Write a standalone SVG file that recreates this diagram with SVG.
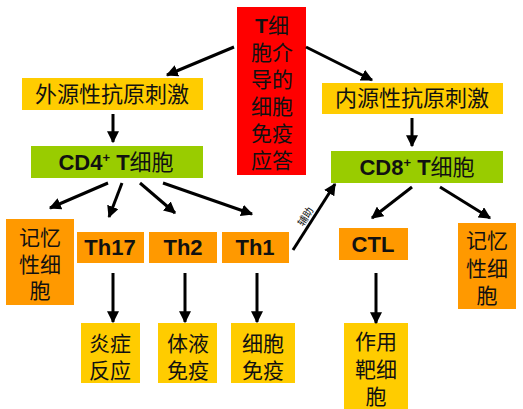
<svg xmlns="http://www.w3.org/2000/svg" width="523" height="409" viewBox="0 0 523 409">
<defs>
<marker id="ah" viewBox="0 0 10 10" refX="9" refY="5" markerWidth="4" markerHeight="4" orient="auto" markerUnits="strokeWidth">
<path d="M0,0 L10,5 L0,10 z" fill="#000"/>
</marker>
<style>
.cn{font-family:"Liberation Sans","Noto Sans CJK SC",sans-serif;font-size:21px;fill:#111;text-anchor:middle;}
.en{font-family:"Liberation Sans",Arial,sans-serif;font-weight:bold;font-size:22px;fill:#111;}
.ar{stroke:#000;stroke-width:3;fill:none;marker-end:url(#ah);}
.y{fill:#ffcc00;}
.o{fill:#ff9900;}
.g{fill:#99cc00;}
</style>
</defs>
<rect width="523" height="409" fill="#fff"/>
<g id="red">
<rect x="237" y="7" width="69" height="168" fill="#ff0000"/>
<text class="cn" x="272" y="33"><tspan class="en" style="font-size:21px">T</tspan>细<tspan x="272" dy="27">胞介</tspan><tspan x="272" dy="27">导的</tspan><tspan x="272" dy="27">细胞</tspan><tspan x="272" dy="27">免疫</tspan><tspan x="272" dy="27">应答</tspan></text>
</g>
<g id="exo">
<rect class="y" x="22" y="78" width="181" height="32"/>
<text class="cn" x="112" y="102" style="font-size:22px">外源性抗原刺激</text>
</g>
<g id="endo">
<rect class="y" x="322" y="83" width="181" height="31"/>
<text class="cn" x="412" y="106" style="font-size:22px">内源性抗原刺激</text>
</g>
<g id="cd4">
<rect class="g" x="31" y="146" width="172" height="32"/>
<text class="cn" x="116" y="170" style="font-size:22px"><tspan class="en">CD4</tspan><tspan class="en" style="font-size:13px" dy="-8">+</tspan><tspan class="en" dy="8"> T</tspan>细胞</text>
</g>
<g id="cd8">
<rect class="g" x="331" y="151" width="172" height="32"/>
<text class="cn" x="417" y="175" style="font-size:22px"><tspan class="en">CD8</tspan><tspan class="en" style="font-size:13px" dy="-8">+</tspan><tspan class="en" dy="8"> T</tspan>细胞</text>
</g>
<g id="mem1">
<rect class="o" x="6" y="219" width="68" height="86"/>
<text class="cn" x="40" y="245">记忆<tspan x="40" dy="26.5">性细</tspan><tspan x="40" dy="26.5">胞</tspan></text>
</g>
<g id="th17">
<rect class="o" x="77" y="232" width="67" height="31"/>
<text class="en" x="110" y="255" text-anchor="middle">Th17</text>
</g>
<g id="th2">
<rect class="o" x="149" y="232" width="68" height="31"/>
<text class="en" x="183" y="255" text-anchor="middle">Th2</text>
</g>
<g id="th1">
<rect class="o" x="222" y="232" width="67" height="31"/>
<text class="en" x="255" y="255" text-anchor="middle">Th1</text>
</g>
<g id="inflam">
<rect class="y" x="81" y="323" width="59" height="60"/>
<text class="cn" x="110" y="351">炎症<tspan x="110" dy="27">反应</tspan></text>
</g>
<g id="humoral">
<rect class="y" x="158" y="323" width="59" height="60"/>
<text class="cn" x="188" y="351">体液<tspan x="188" dy="27">免疫</tspan></text>
</g>
<g id="cellular">
<rect class="y" x="231" y="323" width="64" height="60"/>
<text class="cn" x="263" y="351">细胞<tspan x="263" dy="27">免疫</tspan></text>
</g>
<g id="ctl">
<rect class="o" x="339" y="228" width="69" height="32"/>
<text class="en" x="373" y="252" text-anchor="middle">CTL</text>
</g>
<g id="mem2">
<rect class="o" x="458" y="223" width="58" height="86"/>
<text class="cn" x="487" y="248">记忆<tspan x="487" dy="27.5">性细</tspan><tspan x="487" dy="27.5">胞</tspan></text>
</g>
<g id="target">
<rect class="y" x="344" y="323" width="64" height="86"/>
<text class="cn" x="376" y="349">作用<tspan x="376" dy="27.5">靶细</tspan><tspan x="376" dy="27.5">胞</tspan></text>
</g>
<g id="connectors">
<line class="ar" x1="234" y1="47" x2="167" y2="75"/>
<line class="ar" x1="306" y1="47" x2="372" y2="80"/>
<line class="ar" x1="113" y1="114" x2="113" y2="142"/>
<line class="ar" x1="412" y1="118" x2="412" y2="146"/>
<line class="ar" x1="108" y1="183" x2="50" y2="208"/>
<line class="ar" x1="122" y1="183" x2="109" y2="217"/>
<line class="ar" x1="140" y1="183" x2="175" y2="213"/>
<line class="ar" x1="163" y1="183" x2="252" y2="214"/>
<line class="ar" x1="113" y1="273" x2="113" y2="322"/>
<line class="ar" x1="185" y1="273" x2="185" y2="322"/>
<line class="ar" x1="257" y1="273" x2="257" y2="322"/>
<line class="ar" x1="293" y1="250" x2="335" y2="184"/>
<line class="ar" x1="412" y1="187" x2="372" y2="218"/>
<line class="ar" x1="440" y1="187" x2="490" y2="218"/>
<line class="ar" x1="376" y1="273" x2="376" y2="323"/>
<text x="306" y="220" transform="rotate(-58 306 217)" style="font-family:'Liberation Sans','Noto Sans CJK SC',sans-serif;font-size:10px;fill:#111;text-anchor:middle">辅助</text>
</g>
</svg>
